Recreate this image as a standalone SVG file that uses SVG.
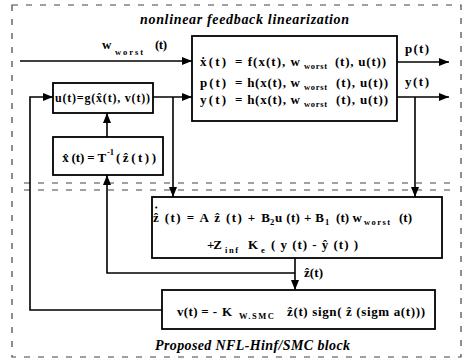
<svg xmlns="http://www.w3.org/2000/svg" width="464" height="361" viewBox="0 0 464 361">
<style>
.t{font-family:"Liberation Serif","Times New Roman",serif;font-weight:bold;font-size:13px;fill:#000}
.s{font-size:8.5px}
.m{font-size:12px}
.ti{font-style:italic;font-size:14px}
.box{fill:#fff;stroke:#000;stroke-width:1.8}
.ln{fill:none;stroke:#000;stroke-width:1.6}
.dash{fill:none;stroke:#444;stroke-width:1.2;stroke-dasharray:6 8}
</style>
<defs>
<marker id="ar" markerUnits="userSpaceOnUse" markerWidth="10" markerHeight="8" refX="10" refY="4" orient="auto">
<path d="M0,0 L10,4 L0,8 z" fill="#000"/>
</marker>
</defs>
<rect class="dash" x="12" y="5" width="449" height="352"/>
<line class="dash" x1="24" y1="183" x2="455" y2="183"/>
<line class="dash" x1="24" y1="190" x2="455" y2="190"/>
<text class="t ti" x="140" y="24" textLength="209" lengthAdjust="spacing">nonlinear feedback linearization</text>
<text class="t ti" x="155" y="350" textLength="195" lengthAdjust="spacing">Proposed NFL-Hinf/SMC block</text>

<g id="connectors">
<line class="ln" x1="20" y1="61" x2="192" y2="61" marker-end="url(#ar)"/>
<line class="ln" x1="397" y1="62" x2="449" y2="62" marker-end="url(#ar)"/>
<line class="ln" x1="397" y1="97" x2="449" y2="97" marker-end="url(#ar)"/>
<path class="ln" d="M415,97 V197" marker-end="url(#ar)"/>
<line class="ln" x1="153" y1="97" x2="192" y2="97" marker-end="url(#ar)"/>
<path class="ln" d="M173,97 V197" marker-end="url(#ar)"/>
<line class="ln" x1="107" y1="137" x2="107" y2="113" marker-end="url(#ar)"/>
<path class="ln" d="M295,273 H107 V175" marker-end="url(#ar)"/>
<path class="ln" d="M295,258 V290" marker-end="url(#ar)"/>
<path class="ln" d="M162,310 H30 V97 H53" marker-end="url(#ar)"/>
</g>

<g id="w-label">
<text class="t" x="102" y="49">w</text>
<text class="t s" x="115" y="55" textLength="28" lengthAdjust="spacing">worst</text>
<text class="t" x="155" y="49" textLength="12" lengthAdjust="spacing">(t)</text>
</g>
<g id="p-label"><text class="t" x="405" y="53" textLength="24" lengthAdjust="spacing">p(t)</text></g>
<g id="y-label"><text class="t" x="405" y="86" textLength="24" lengthAdjust="spacing">y(t)</text></g>
<g id="zhat-label">
<text class="t" x="304" y="277" textLength="19" lengthAdjust="spacing">ẑ(t)</text>
</g>

<g id="plant">
<rect class="box" x="192" y="36" width="205" height="85"/>
<text class="t" x="200" y="66" textLength="26" lengthAdjust="spacing">ẋ(t)</text>
<text class="t" x="235" y="66" textLength="65" lengthAdjust="spacing">= f(x(t), w</text>
<text class="t s" x="304" y="69" textLength="23" lengthAdjust="spacing">worst</text>
<text class="t" x="335" y="66" textLength="51" lengthAdjust="spacing">(t), u(t))</text>
<text class="t" x="200" y="87" textLength="26" lengthAdjust="spacing">p(t)</text>
<text class="t" x="235" y="87" textLength="65" lengthAdjust="spacing">= h(x(t), w</text>
<text class="t s" x="304" y="90" textLength="23" lengthAdjust="spacing">worst</text>
<text class="t" x="336" y="87" textLength="52" lengthAdjust="spacing">(t), u(t))</text>
<text class="t" x="200" y="104" textLength="26" lengthAdjust="spacing">y(t)</text>
<text class="t" x="235" y="104" textLength="65" lengthAdjust="spacing">= h(x(t), w</text>
<text class="t s" x="304" y="107" textLength="23" lengthAdjust="spacing">worst</text>
<text class="t" x="336" y="104" textLength="52" lengthAdjust="spacing">(t), u(t))</text>
</g>

<g id="u-box">
<rect class="box" x="53" y="83" width="100" height="30"/>
<text class="t m" x="55" y="102" textLength="95" lengthAdjust="spacing">u(t)=g(x̂(t), v(t))</text>
</g>

<g id="xhat-box">
<rect class="box" x="53" y="137" width="110" height="38"/>
<text class="t" x="62" y="162" textLength="44" lengthAdjust="spacing">x̂ (t) = T</text>
<text class="t s" x="107" y="155">-1</text>
<text class="t" x="116" y="162" textLength="40" lengthAdjust="spacing">(ẑ(t))</text>
</g>

<g id="observer">
<rect class="box" x="152" y="197" width="290" height="61"/>
<circle cx="156.3" cy="207.5" r="1.1" fill="#000"/>
<text class="t" x="153" y="222" textLength="117" lengthAdjust="spacing">ẑ (t) = A ẑ (t) + B</text>
<text class="t s" x="270" y="225">2</text>
<text class="t" x="275" y="222" textLength="49" lengthAdjust="spacing">u (t) + B</text>
<text class="t s" x="325" y="225">1</text>
<text class="t" x="336" y="222" textLength="26" lengthAdjust="spacing">(t) w</text>
<text class="t s" x="364" y="225" textLength="26" lengthAdjust="spacing">worst</text>
<text class="t" x="399" y="222" textLength="13" lengthAdjust="spacing">(t)</text>
<text class="t" x="207" y="249" textLength="15" lengthAdjust="spacing">+ Z</text>
<text class="t s" x="225" y="253" textLength="13" lengthAdjust="spacing">inf</text>
<text class="t" x="248" y="249">K</text>
<text class="t s" x="261" y="253">e</text>
<text class="t" x="271" y="249" textLength="87" lengthAdjust="spacing">( y (t) - ŷ (t) )</text>
</g>

<g id="smc-box">
<rect class="box" x="162" y="290" width="273" height="39"/>
<text class="t" x="177" y="316" textLength="40" lengthAdjust="spacing">v(t) = -</text>
<text class="t" x="222" y="316">K</text>
<text class="t s" x="239" y="319" textLength="35" lengthAdjust="spacing">W.SMC</text>
<text class="t" x="287" y="316" textLength="138" lengthAdjust="spacing">ẑ(t) sign( ẑ (sigm a(t)))</text>
</g>
</svg>
